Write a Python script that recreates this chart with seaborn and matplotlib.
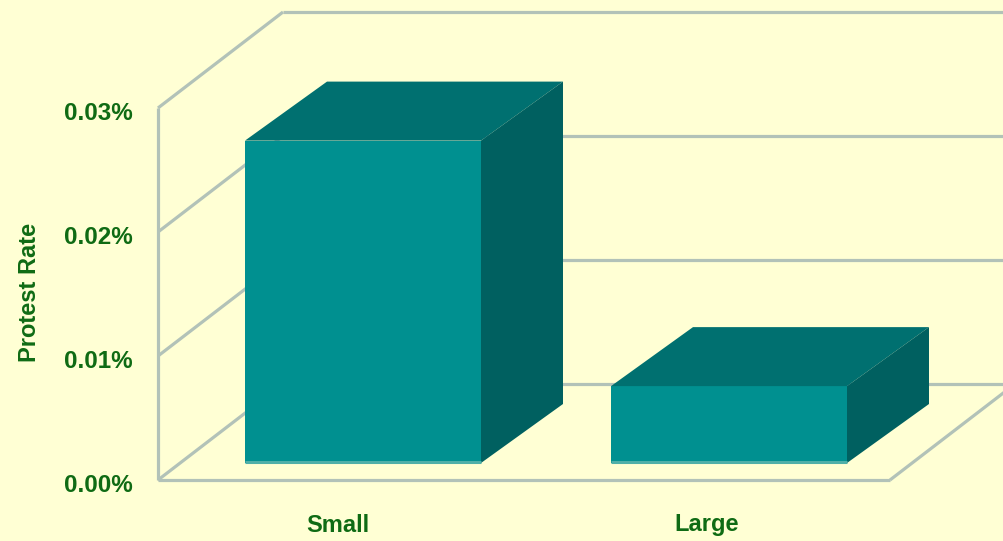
import matplotlib
matplotlib.use('Agg')
import numpy as np
import pandas as pd
import seaborn as sns
import matplotlib.pyplot as plt

categories = ['Small', 'Large']
rates = [0.026, 0.0062]
tick_values = [0.00, 0.01, 0.02, 0.03]
tick_labels = ['0.00%', '0.01%', '0.02%', '0.03%']
y_title = 'Protest Rate'

bg = '#FFFFD4'
front = '#009090'
top = '#007070'
side = '#006060'
grid = '#B2C2B8'
green = '#0F6B14'

W, H = 1004, 541
PX_X = 366.0       # pixels per category
PX_Y = 12400.0     # pixels per 1%

sns.set_style('white')
plt.rcParams['font.family'] = ['Liberation Sans', 'DejaVu Sans']

fig = plt.figure(figsize=(W / 100, H / 100), dpi=100, facecolor=bg)
ax = fig.add_axes([0, 0, 1, 1], facecolor=bg)
ax.set_xlim(-363 / PX_X, (W - 363) / PX_X)
ax.set_ylim((463 - H) / PX_Y, 463 / PX_Y)
ax.axis('off')

# depth of the floor and of the bars, in data units
wall_dx, wall_dy = 125 / PX_X, 96 / PX_Y
bar_dx, bar_dy = 82 / PX_X, 59 / PX_Y
floor = -17 / PX_Y
left = (158 - 363) / PX_X
right = (890 - 363) / PX_X
right_end = (W + 20 - 363) / PX_X
bar_w = 236 / PX_X

line = dict(color=grid, lw=2.3, solid_capstyle='butt', zorder=1)
ax.plot([left, left], [floor, floor + tick_values[-1]], **line)
ax.plot([left, right], [floor, floor], **line)
ax.plot([right, right + wall_dx], [floor, floor + wall_dy], **line)
for v, lab in zip(tick_values, tick_labels):
    ax.plot([left, left + wall_dx], [floor + v, floor + v + wall_dy], **line)
    ax.plot([left + wall_dx, right_end], [floor + v + wall_dy] * 2, **line)
    ax.text((133 - 363) / PX_X, floor + v + (-3 / PX_Y), lab, ha='right', va='center_baseline',
            color=green, fontsize=17.5, fontweight='bold')

df = pd.DataFrame({'size': categories, 'rate': rates})
sns.barplot(data=df, x='size', y='rate', color=front, saturation=1, width=bar_w,
            order=categories, ax=ax, zorder=3, linewidth=0, errorbar=None)
ax.set_xlim(-363 / PX_X, (W - 363) / PX_X)
ax.set_ylim((463 - H) / PX_Y, 463 / PX_Y)
ax.axis('off')

for i, (c, r) in enumerate(zip(categories, rates)):
    x0, x1 = i - bar_w / 2, i + bar_w / 2
    ax.fill([x0, x1, x1 + bar_dx, x0 + bar_dx], [r, r, r + bar_dy, r + bar_dy],
            color=top, lw=0, zorder=3)
    ax.fill([x1, x1 + bar_dx, x1 + bar_dx, x1], [0, bar_dy, r + bar_dy, r],
            color=side, lw=0, zorder=3)
    ax.plot([x0, x1], [1.5 / PX_Y, 1.5 / PX_Y], color='#4FAFA8', lw=2.2, solid_capstyle='butt', zorder=4)
    ax.text(i + (338 - 363) / PX_X + (i * 3 / PX_X), (463 - 525) / PX_Y, c, ha='center', va='center',
            color=green, fontsize=17, fontweight='bold')

ax.text((30 - 363) / PX_X, (463 - 292) / PX_Y, y_title, rotation=90, ha='center', va='center',
        color=green, fontsize=17, fontweight='bold')

fig.savefig('out.png', dpi=100, facecolor=bg)
